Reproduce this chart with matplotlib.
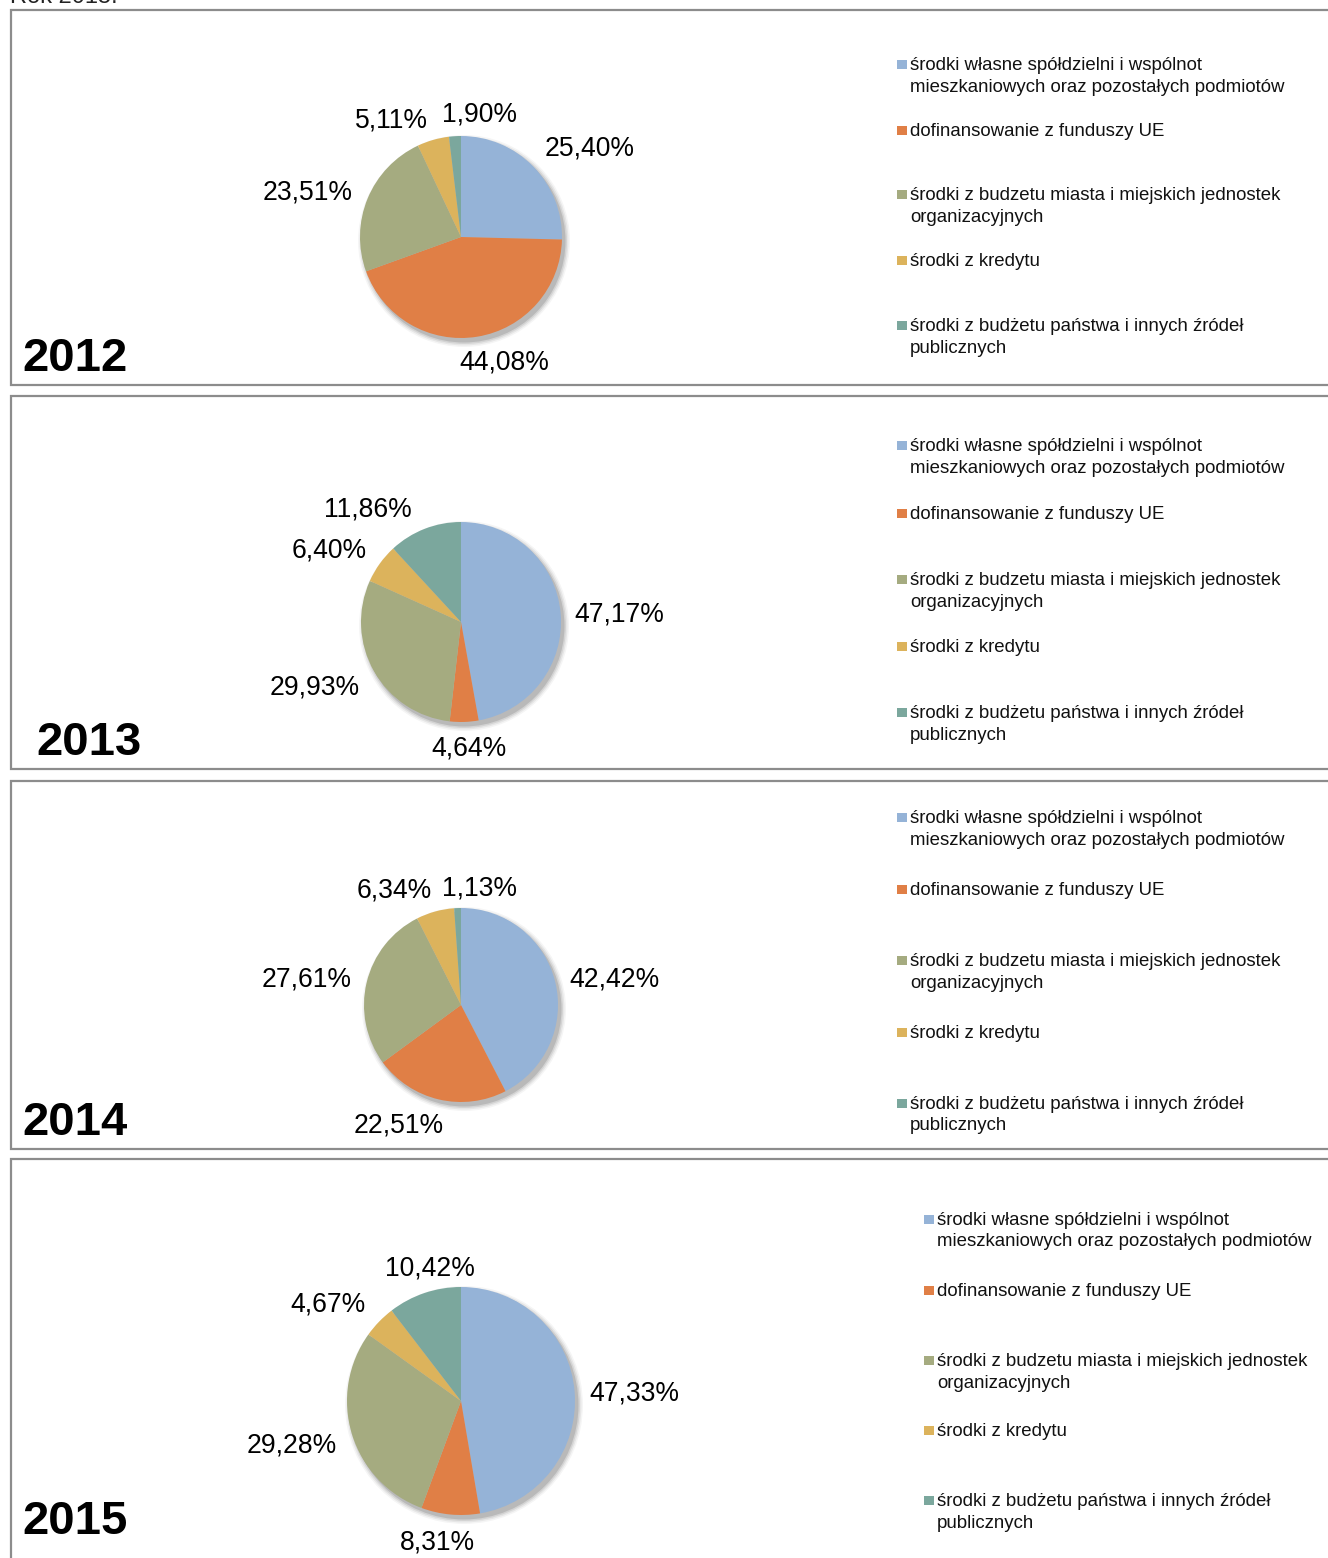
import matplotlib
matplotlib.use("Agg")
import matplotlib.pyplot as plt
from matplotlib.patches import Rectangle, Circle

plt.rcParams['font.family'] = ['Liberation Sans', 'DejaVu Sans']

categories = [
    "środki własne spółdzielni i wspólnot\nmieszkaniowych oraz pozostałych podmiotów",
    "dofinansowanie z funduszy UE",
    "środki z budzetu miasta i miejskich jednostek\norganizacyjnych",
    "środki z kredytu",
    "środki z budżetu państwa i innych źródeł\npublicznych",
]
years = ["2012", "2013", "2014", "2015"]
values_2012 = [25.40, 44.08, 23.51, 5.11, 1.90]
values_2013 = [47.17, 4.64, 29.93, 6.40, 11.86]
values_2014 = [42.42, 22.51, 27.61, 6.34, 1.13]
values_2015 = [47.33, 8.31, 29.28, 4.67, 10.42]
all_values = [values_2012, values_2013, values_2014, values_2015]

colors = ["#95B3D7", "#E07F46", "#A5AB80", "#DCB35C", "#7BA79D"]

W, H = 1328, 1558
fig = plt.figure(figsize=(W / 100, H / 100), dpi=100)
ax = fig.add_axes([0, 0, 1, 1])
ax.set_xlim(0, W)
ax.set_ylim(0, H)
ax.set_aspect('equal')
ax.axis('off')

def Y(y):
    return H - y

# layout (image pixel coordinates)
panels = [(11, 10, 385), (11, 396, 769), (11, 781, 1149), (11, 1159, 1570)]
centers = [(461, 237), (461, 622), (461, 1005), (461, 1401)]
radii = [101, 100, 97, 114]
label_offsets = [
    [(129, -91), (43, 123), (-153, -47), (-70, -119), (18, -125)],
    [(158, -10), (8, 124), (-146, 63), (-132, -74), (-93, -115)],
    [(153, -28), (-62, 118), (-154, -28), (-67, -117), (19, -119)],
    [(173, -10), (-24, 139), (-169, 42), (-133, -99), (-31, -135)],
]
year_pos = [(22, 371), (36, 755), (22, 1135), (22, 1534)]
legend_x = [(897, 910), (897, 910), (897, 910), (924, 937)]
legend_y = [
    [63, 129, 193, 259, 324],
    [444, 512, 578, 645, 711],
    [816, 888, 959, 1031, 1102],
    [1218, 1289, 1359, 1429, 1499],
]

# partially visible title at top (cut off in the source image)
ax.text(10, Y(3), "Rok 2015.", fontsize=17, color="#222222", va='baseline', ha='left')

for i, vals in enumerate(all_values):
    x0, y0, y1 = panels[i]
    ax.add_patch(Rectangle((x0, Y(y1)), W + 20 - x0, y1 - y0, facecolor='white',
                           edgecolor='#8C8C8C', linewidth=1.6, zorder=1))
    cx, cy = centers[i]
    r = radii[i]
    # soft shadow
    for dr, a in [(5, 0.04), (3.5, 0.06), (2, 0.08), (0.5, 0.12)]:
        ax.add_patch(Circle((cx + 3, Y(cy) - 4), r + dr, facecolor='black', alpha=a,
                            edgecolor='none', zorder=2))
    wedges, _ = ax.pie(vals, colors=colors, startangle=90, counterclock=False,
                       center=(cx, Y(cy)), radius=r, frame=True,
                       wedgeprops=dict(linewidth=0))
    for w in wedges:
        w.set_zorder(3)
    for v, (dx, dy) in zip(vals, label_offsets[i]):
        ax.text(cx + dx, Y(cy + dy + 9.5), f"{v:.2f}%".replace('.', ','), fontsize=19.1,
                ha='center', va='baseline', color='black', zorder=5)
    yx, yy = year_pos[i]
    ax.text(yx, Y(yy), years[i], fontsize=34, fontweight='bold', ha='left',
            va='baseline', color='black', zorder=5)
    sx, tx = legend_x[i]
    for c, lab, ly in zip(colors, categories, legend_y[i]):
        ax.add_patch(Rectangle((sx, Y(ly + 1) - 4.5), 9.5, 9, facecolor=c,
                               edgecolor='none', zorder=5))
        for j, line in enumerate(lab.split('\n')):
            ax.text(tx, Y(ly + 7 + 21.5 * j), line, fontsize=13.4, ha='left',
                    va='baseline', color='#111111', zorder=5)

ax.set_xlim(0, W)
ax.set_ylim(0, H)
ax.axis('off')
fig.savefig("out.png", dpi=100)
